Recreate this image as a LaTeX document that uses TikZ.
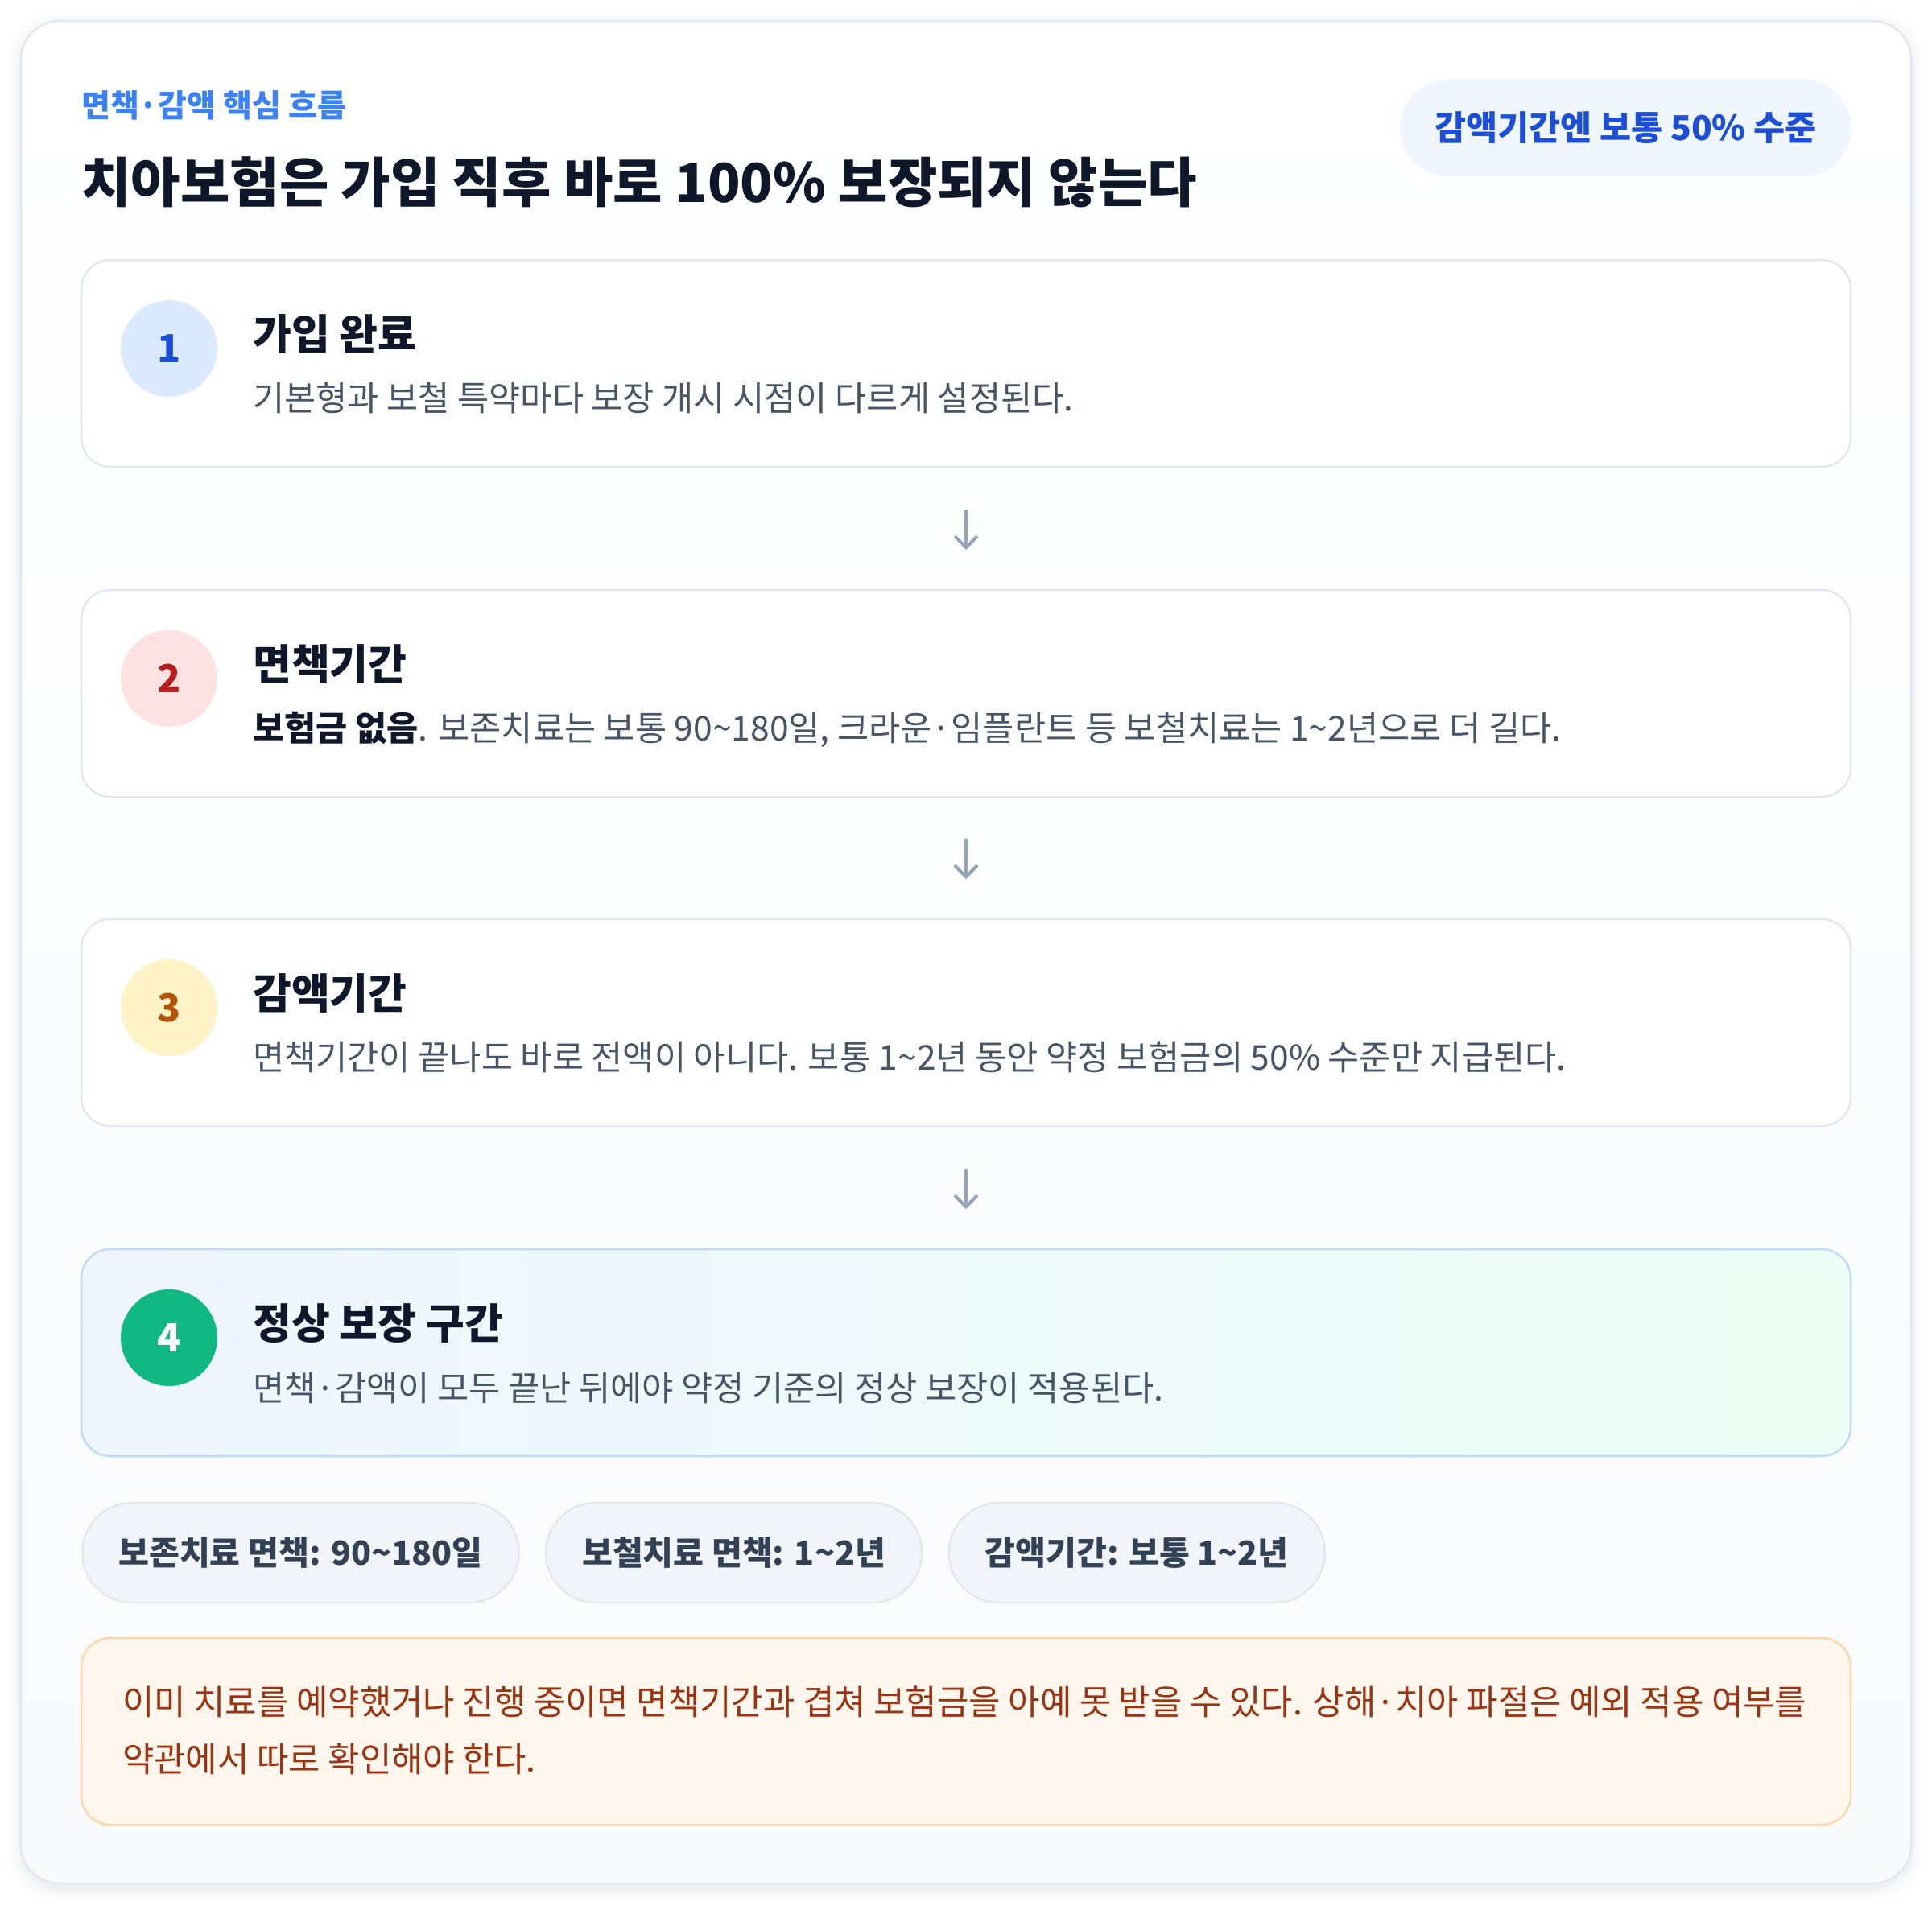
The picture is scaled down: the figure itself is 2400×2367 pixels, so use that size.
\documentclass[tikz,border=0pt]{standalone}
\usepackage{fontspec}
\setmainfont{Noto Sans CJK KR}
\usetikzlibrary{arrows.meta}
\definecolor{outerline}{HTML}{E2E8F0}
\definecolor{bgb}{HTML}{F8FAFC}
\definecolor{labelc}{HTML}{3B82F6}
\definecolor{titlec}{HTML}{0F172A}
\definecolor{badgefill}{HTML}{EFF6FF}
\definecolor{badgetext}{HTML}{1D4ED8}
\definecolor{cardline}{HTML}{E2E8F0}
\definecolor{descc}{HTML}{475569}
\definecolor{arrowc}{HTML}{94A3B8}
\definecolor{c4line}{HTML}{BFDBFE}
\definecolor{c4l}{HTML}{EFF6FF}
\definecolor{c4r}{HTML}{ECFDF5}
\definecolor{n1f}{HTML}{DBEAFE}
\definecolor{n1t}{HTML}{1D4ED8}
\definecolor{n2f}{HTML}{FEE2E2}
\definecolor{n2t}{HTML}{B91C1C}
\definecolor{n3f}{HTML}{FEF3C7}
\definecolor{n3t}{HTML}{B45309}
\definecolor{n4f}{HTML}{10B981}
\definecolor{pillfill}{HTML}{F1F5F9}
\definecolor{pillline}{HTML}{E2E8F0}
\definecolor{pilltext}{HTML}{334155}
\definecolor{warnfill}{HTML}{FFF7ED}
\definecolor{warnline}{HTML}{FED7AA}
\definecolor{warntext}{HTML}{9A3412}
\definecolor{shadowc}{HTML}{94A3B8}
\newcommand\fsz[1]{\fontsize{#1}{#1}\selectfont}
\begin{document}
\begin{tikzpicture}[x=1pt,y=-1pt,
  card/.style={draw=cardline, line width=2.5pt, fill=white, rounded corners=36pt, minimum width=2198pt, minimum height=257pt, inner sep=0pt},
  numc/.style={circle, minimum size=120pt, inner sep=0pt, font=\fsz{48}\bfseries},
  head/.style={anchor=base west, inner sep=0pt, text=titlec, font=\fsz{52}\bfseries},
  desc/.style={anchor=base west, inner sep=0pt, text=descc, font=\fsz{42.6}},
  flow/.style={draw=arrowc, line width=4pt, -{Straight Barb[length=14pt,width=28pt]}},
  pill/.style={draw=pillline, line width=2.5pt, fill=pillfill, rounded corners=62pt, minimum height=124pt, inner xsep=45pt, inner ysep=0pt, text=pilltext, font=\fsz{41.2}\bfseries},
]
\useasboundingbox (0,0) rectangle (2400,2367);
\fill[white] (0,0) rectangle (2400,2367);
% outer shadow
\foreach \i/\o in {14/0.025,10/0.03,6/0.04,3/0.05}{
  \fill[shadowc, opacity=\o, rounded corners=56pt] (26-\i,30-\i) rectangle (2374+\i,2346+\i);
}
\shade[rounded corners=48pt, top color=white, bottom color=bgb] (26,26) rectangle (2374,2340);
\draw[outerline, line width=2.5pt, rounded corners=48pt] (26,26) rectangle (2374,2340);

% header
\node[anchor=base west, inner sep=0pt, text=labelc, font=\fsz{39}\bfseries] (lab) at (101,145) {면책·감액 핵심 흐름};
\node[anchor=base west, inner sep=0pt, text=titlec, font=\fsz{66.8}\bfseries] (title) at (101,251) {치아보험은 가입 직후 바로 100\% 보장되지 않는다};
\node[fill=badgefill, rounded corners=60pt, minimum height=120pt, inner xsep=43pt, inner ysep=0pt, text=badgetext, font=\fsz{42.5}\bfseries, anchor=east] (badge) at (2300,159) {감액기간엔 보통 50\% 수준};

% cards
\node[card] (c1) at (1200,451.5) {};
\node[card] (c2) at (1200,861.5) {};
\node[card] (c3) at (1200,1270.5) {};
\node[card, fill=none, left color=c4l, right color=c4r, draw=c4line] (c4) at (1200,1680.5) {};

\node[numc, fill=n1f, text=n1t] (n1) at (210,433) {1};
\node[numc, fill=n2f, text=n2t] (n2) at (210,843) {2};
\node[numc, fill=n3f, text=n3t] (n3) at (210,1252) {3};
\node[numc, fill=n4f, text=white] (n4) at (210,1662) {4};

\node[head] (h1) at (314,434) {가입 완료};
\node[desc] (d1) at (314,510) {기본형과 보철 특약마다 보장 개시 시점이 다르게 설정된다.};
\node[head] (h2) at (314,844) {면책기간};
\node[desc] (d2) at (314,920) {{\bfseries\color{titlec}보험금 없음}. 보존치료는 보통 90\textasciitilde180일, 크라운·임플란트 등 보철치료는 1\textasciitilde2년으로 더 길다.};
\node[head] (h3) at (314,1253) {감액기간};
\node[desc] (d3) at (314,1329) {면책기간이 끝나도 바로 전액이 아니다. 보통 1\textasciitilde2년 동안 약정 보험금의 50\% 수준만 지급된다.};
\node[head] (h4) at (314,1663) {정상 보장 구간};
\node[desc] (d4) at (314,1740) {면책·감액이 모두 끝난 뒤에야 약정 기준의 정상 보장이 적용된다.};

% arrows
\coordinate (a1s) at (1200,633);
\coordinate (a1e) at (1200,683);
\coordinate (a2s) at (1200,1042);
\coordinate (a2e) at (1200,1092);
\coordinate (a3s) at (1200,1452);
\coordinate (a3e) at (1200,1502);
\draw[flow] (a1s) -- (a1e);
\draw[flow] (a2s) -- (a2e);
\draw[flow] (a3s) -- (a3e);

% pills
\node[pill, anchor=west] (p1) at (101,1929) {보존치료 면책: 90\textasciitilde180일};
\node[pill, anchor=west] (p2) at ([xshift=31pt]p1.east) {보철치료 면책: 1\textasciitilde2년};
\node[pill, anchor=west] (p3) at ([xshift=31pt]p2.east) {감액기간: 보통 1\textasciitilde2년};

% warning
\node[draw=warnline, fill=warnfill, line width=2.5pt, rounded corners=36pt, minimum width=2198pt, minimum height=232pt, inner sep=0pt] (warn) at (1200,2151) {};
\node[anchor=base west, inner sep=0pt, text=warntext, font=\fsz{42.8}] (w1) at (152,2130) {이미 치료를 예약했거나 진행 중이면 면책기간과 겹쳐 보험금을 아예 못 받을 수 있다. 상해·치아 파절은 예외 적용 여부를};
\node[anchor=base west, inner sep=0pt, text=warntext, font=\fsz{42.8}] (w2) at (152,2201) {약관에서 따로 확인해야 한다.};
\end{tikzpicture}
\end{document}
